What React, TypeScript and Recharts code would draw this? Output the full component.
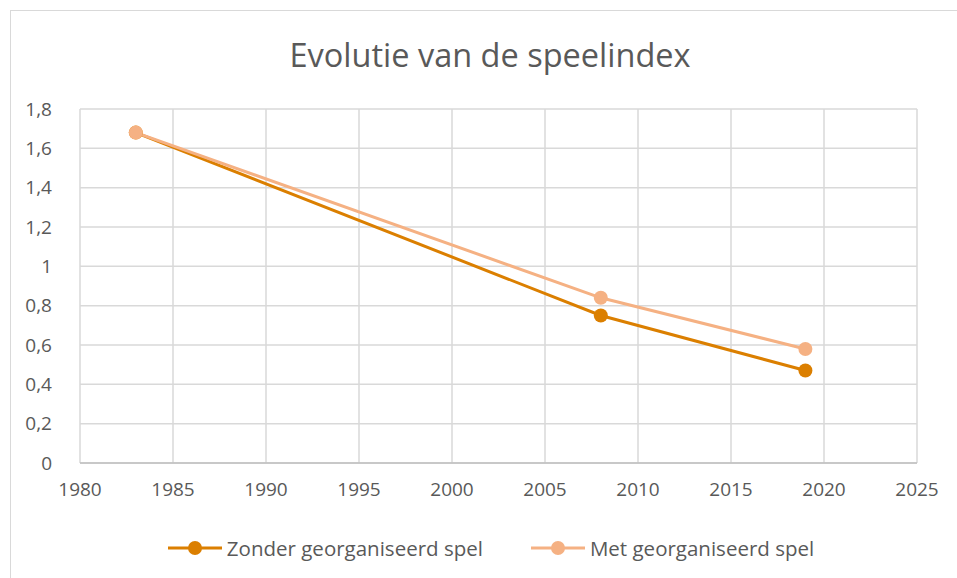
import React from "react";
import {
  CartesianGrid,
  Legend,
  Line,
  LineChart,
  XAxis,
  YAxis,
} from "recharts";

// jaren en waarden van de speelindex
const years = [1983, 2008, 2019];
const zonderSpel = [1.68, 0.75, 0.47];
const metSpel = [1.68, 0.84, 0.58];

const xTicks = [1980, 1985, 1990, 1995, 2000, 2005, 2010, 2015, 2020, 2025];
const yTicks = [0, 0.2, 0.4, 0.6, 0.8, 1, 1.2, 1.4, 1.6, 1.8];

const seriesNames = ["Zonder georganiseerd spel", "Met georganiseerd spel"];
const colors = ["#DB7F00", "#F5B183"];

const data = years.map((year, i) => ({
  year,
  zonder: zonderSpel[i],
  met: metSpel[i],
}));

const font = "'Open Sans', 'Liberation Sans', sans-serif";
const textColor = "#595959";

const LegendContent = () => (
  <div
    style={{
      display: "flex",
      justifyContent: "center",
      gap: 46,
      fontFamily: font,
      fontSize: 20.5,
      color: textColor,
      height: 26,
      alignItems: "center",
    }}
  >
    {seriesNames.map((name, i) => (
      <div key={name} style={{ display: "flex", alignItems: "center" }}>
        <svg width={58} height={20} style={{ marginRight: 3 }}>
          <line x1={2} y1={10} x2={56} y2={10} stroke={colors[i]} strokeWidth={3} />
          <circle cx={29} cy={10} r={7} fill={colors[i]} />
        </svg>
        <span>{name}</span>
      </div>
    ))}
  </div>
);

const App: React.FC = () => {
  return (
    <div
      style={{
        position: "absolute",
        left: 0,
        top: 0,
        width: 957,
        height: 578,
        overflow: "hidden",
        background: "#fff",
      }}
    >
      <div
        style={{
          position: "absolute",
          left: 10,
          top: 10,
          width: 960,
          height: 600,
          border: "1px solid #D9D9D9",
        }}
      />
      <div
        style={{
          position: "absolute",
          left: 0,
          top: 32,
          width: 980,
          textAlign: "center",
          fontFamily: font,
          fontSize: 32.5,
          color: textColor,
        }}
      >
        Evolutie van de speelindex
      </div>
      <div style={{ position: "absolute", left: 0, top: 0 }}>
        <LineChart
          width={957}
          height={578}
          data={data}
          margin={{ top: 109, right: 40, bottom: 59, left: 10 }}
        >
          <CartesianGrid stroke="#D9D9D9" strokeWidth={1.5} />
          <XAxis
            dataKey="year"
            type="number"
            domain={[1980, 2025]}
            ticks={xTicks}
            stroke="#BFBFBF"
            strokeWidth={1.5}
            tickLine={false}
            height={30}
            tick={{ fill: textColor, fontSize: 19, fontFamily: font }}
            tickMargin={14}
          />
          <YAxis
            type="number"
            domain={[0, 1.8]}
            ticks={yTicks}
            axisLine={false}
            tickLine={false}
            width={70}
            tickMargin={22}
            tick={{ fill: textColor, fontSize: 19, fontFamily: font }}
            tickFormatter={(v: number) => String(v).replace(".", ",")}
          />
          <Line
            dataKey="zonder"
            name={seriesNames[0]}
            stroke={colors[0]}
            strokeWidth={3}
            dot={{ r: 7, fill: colors[0], stroke: colors[0], strokeWidth: 0 }}
            isAnimationActive={false}
          />
          <Line
            dataKey="met"
            name={seriesNames[1]}
            stroke={colors[1]}
            strokeWidth={3}
            dot={{ r: 7, fill: colors[1], stroke: colors[1], strokeWidth: 0 }}
            isAnimationActive={false}
          />
          <Legend
            content={<LegendContent />}
            wrapperStyle={{ left: 0, width: 980, bottom: 17 }}
          />
        </LineChart>
      </div>
    </div>
  );
};

export default App;
